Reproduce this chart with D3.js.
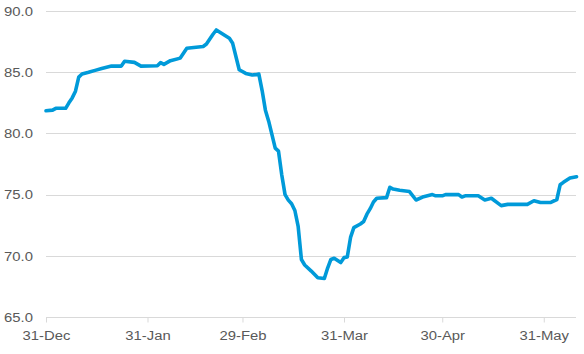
<!DOCTYPE html>
<html>
<head>
<meta charset="utf-8">
<script src="https://cdn.jsdelivr.net/npm/d3@7"></script>
<style>
  html, body { margin: 0; padding: 0; background: #fff; }
  svg { display: block; }
  text { font-family: "Liberation Sans", Arial, sans-serif; }
</style>
</head>
<body>
<svg id="chart" width="584" height="354"></svg>
<script>
// ---- data ----
const dates = [
  "2019-12-31","2020-01-02","2020-01-03","2020-01-06","2020-01-07","2020-01-08","2020-01-09","2020-01-10","2020-01-11",
  "2020-01-13","2020-01-15","2020-01-17","2020-01-20","2020-01-23","2020-01-24","2020-01-27","2020-01-29",
  "2020-02-03","2020-02-04","2020-02-05","2020-02-07","2020-02-10","2020-02-12","2020-02-17","2020-02-18",
  "2020-02-20","2020-02-21","2020-02-25","2020-02-26","2020-02-28","2020-03-01","2020-03-03","2020-03-04",
  "2020-03-05","2020-03-06","2020-03-07","2020-03-08","2020-03-10","2020-03-11","2020-03-12","2020-03-13",
  "2020-03-14","2020-03-15","2020-03-16","2020-03-17","2020-03-18","2020-03-19","2020-03-21","2020-03-23",
  "2020-03-25","2020-03-26","2020-03-27","2020-03-28","2020-03-30","2020-03-31","2020-04-01","2020-04-02",
  "2020-04-03","2020-04-05","2020-04-06","2020-04-07","2020-04-08","2020-04-09","2020-04-10","2020-04-13",
  "2020-04-14","2020-04-15","2020-04-17","2020-04-20","2020-04-22","2020-04-24","2020-04-27","2020-04-28",
  "2020-04-30","2020-05-01","2020-05-05","2020-05-06","2020-05-07","2020-05-11","2020-05-13","2020-05-15",
  "2020-05-18","2020-05-20","2020-05-26","2020-05-28","2020-05-30","2020-06-02","2020-06-04","2020-06-05",
  "2020-06-06","2020-06-08","2020-06-10"
];
const values = [
  81.85,81.9,82.05,82.05,82.5,82.9,83.45,84.6,84.85,
  84.99,85.15,85.3,85.5,85.5,85.9,85.8,85.5,
  85.53,85.78,85.64,85.94,86.15,86.95,87.1,87.3,
  88.1,88.45,87.77,87.36,85.2,84.9,84.77,84.8,
  84.85,83.5,81.9,81.0,78.8,78.55,76.6,75.0,
  74.55,74.25,73.7,72.4,69.7,69.25,68.75,68.2,
  68.15,69.0,69.7,69.8,69.45,69.85,69.9,71.5,
  72.3,72.6,72.8,73.4,73.85,74.4,74.7,74.75,
  75.6,75.45,75.35,75.25,74.56,74.8,75.0,74.9,
  74.9,75.0,75.0,74.8,74.9,74.9,74.56,74.7,
  74.1,74.2,74.2,74.5,74.35,74.35,74.6,75.8,
  76.0,76.35,76.46
];
const xTickDates = ["2019-12-31","2020-01-31","2020-02-29","2020-03-31","2020-04-30","2020-05-31"];
const yTicks = [65, 70, 75, 80, 85, 90];
const xDomain = ["2019-12-31","2020-06-10"];

// ---- drawing ----
const parse = d3.utcParse("%Y-%m-%d");
const fmt = d3.utcFormat("%d-%b");
const svg = d3.select("#chart");
const FS = 13.5, SX = 1.1;

const x = d3.scaleUtc().domain(xDomain.map(parse)).range([46, 576.5]);
const y = d3.scaleLinear().domain([65, 90]).range([317, 11]);

const data = dates.map((d, i) => ({ date: parse(d), value: values[i] }));

// gridlines
svg.append("g").selectAll("line").data(yTicks).join("line")
  .attr("x1", 46).attr("x2", 576)
  .attr("y1", d => Math.round(y(d)) + 0.5).attr("y2", d => Math.round(y(d)) + 0.5)
  .attr("stroke", "#d9d9d9").attr("stroke-width", 1);

// y labels
svg.append("g").selectAll("text").data(yTicks).join("text")
  .attr("transform", d => `translate(33,${y(d)}) scale(${SX},1)`)
  .attr("dy", "0.35em")
  .attr("text-anchor", "end")
  .attr("font-size", FS)
  .attr("fill", "#595959")
  .text(d => d.toFixed(1));

// x axis
const xAxis = d3.axisBottom(x)
  .tickValues(xTickDates.map(parse))
  .tickFormat(fmt)
  .tickSize(5)
  .tickSizeOuter(0);
const gx = svg.append("g").attr("transform", `translate(0,${Math.round(y(65)) + 0.5})`).call(xAxis);
gx.select(".domain").remove();
gx.selectAll(".tick line").attr("stroke", "#d9d9d9");
gx.selectAll(".tick text")
  .attr("font-size", FS)
  .attr("font-family", "Liberation Sans, Arial, sans-serif")
  .attr("fill", "#595959")
  .attr("y", null)
  .attr("dy", null)
  .attr("transform", `translate(0,22.5) scale(${SX},1)`);

// line
const line = d3.line().x(d => x(d.date)).y(d => y(d.value));
svg.append("path").datum(data)
  .attr("fill", "none")
  .attr("stroke", "#009ad9")
  .attr("stroke-width", 3.6)
  .attr("stroke-linejoin", "round")
  .attr("stroke-linecap", "round")
  .attr("d", line);
</script>
</body>
</html>
